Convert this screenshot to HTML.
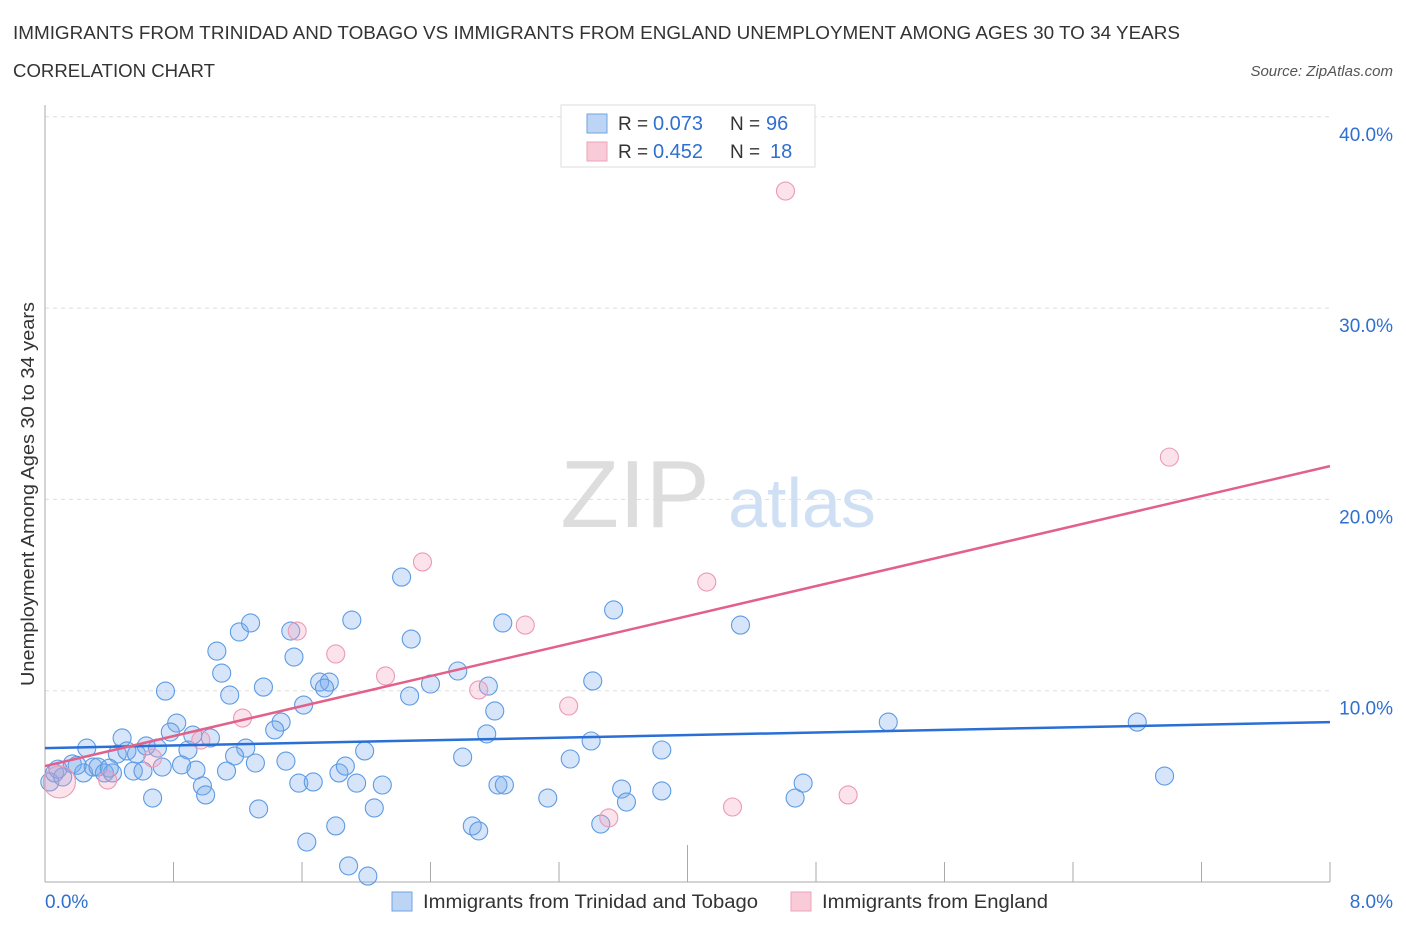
<!DOCTYPE html>
<html><head><meta charset="utf-8"><style>
body{margin:0;background:#fff;font-family:"Liberation Sans",sans-serif;}
svg text{font-family:"Liberation Sans",sans-serif;}
</style></head><body>
<svg id="chart" width="1406" height="930" viewBox="0 0 1406 930" xmlns="http://www.w3.org/2000/svg">
<text x="13" y="39" font-size="18" fill="#333" textLength="1167" lengthAdjust="spacingAndGlyphs">IMMIGRANTS FROM TRINIDAD AND TOBAGO VS IMMIGRANTS FROM ENGLAND UNEMPLOYMENT AMONG AGES 30 TO 34 YEARS</text>
<text x="13" y="77" font-size="18" fill="#333" textLength="202" lengthAdjust="spacingAndGlyphs">CORRELATION CHART</text>
<text x="1393" y="76" font-size="15" fill="#555" font-style="italic" text-anchor="end">Source: ZipAtlas.com</text>
<g>
<text x="635" y="527" font-size="96" fill="#ddd" text-anchor="middle" font-family="Liberation Serif, serif">ZIP</text>
<text x="802" y="527" font-size="70" fill="#cfe0f5" text-anchor="middle">atlas</text>
</g>
<g id="grid"></g>
<g id="axes"></g>
<g id="marks"></g>
<g>
<rect x="561" y="105" width="254" height="62" fill="#fff" stroke="#ddd"/>
<rect x="587" y="114" width="20" height="19" fill="#bcd5f5" stroke="#6fa3e3"/>
<rect x="587" y="142" width="20" height="19" fill="#f9cbd8" stroke="#eba3b9"/>
<text x="618" y="130" font-size="19" fill="#333">R =</text>
<text x="653" y="130" font-size="20" fill="#2f6fd0">0.073</text>
<text x="730" y="130" font-size="19" fill="#333">N =</text>
<text x="766" y="130" font-size="20" fill="#2f6fd0">96</text>
<text x="618" y="158" font-size="19" fill="#333">R =</text>
<text x="653" y="158" font-size="20" fill="#2f6fd0">0.452</text>
<text x="730" y="158" font-size="19" fill="#333">N =</text>
<text x="770" y="158" font-size="20" fill="#2f6fd0">18</text>
</g>
<g>
<rect x="392" y="892" width="20" height="19" fill="#bcd5f5" stroke="#6fa3e3"/>
<text x="423" y="908" font-size="19" fill="#333" textLength="335" lengthAdjust="spacingAndGlyphs">Immigrants from Trinidad and Tobago</text>
<rect x="791" y="892" width="20" height="19" fill="#f9cbd8" stroke="#eba3b9"/>
<text x="822" y="908" font-size="19" fill="#333" textLength="226" lengthAdjust="spacingAndGlyphs">Immigrants from England</text>
</g>
<text transform="translate(34,494) rotate(-90)" font-size="18" fill="#333" text-anchor="middle" textLength="384" lengthAdjust="spacingAndGlyphs">Unemployment Among Ages 30 to 34 years</text>
</svg>
<script>
const blueX=[2.22,1.21,1.28,1.07,1.10,1.15,0.75,1.36,1.53,1.55,1.91,2.28,1.71,1.77,1.74,2.27,2.40,2.57,2.76,2.80,2.75,2.60,1.61,1.47,1.43,0.82,0.78,0.92,1.03,0.48,0.26,0.45,0.51,0.57,0.63,0.70,0.89,1.25,1.18,1.99,0.17,0.24,0.30,0.33,0.37,0.42,0.03,0.06,0.11,0.55,0.61,0.73,0.85,0.94,1.13,1.31,1.50,0.98,1.00,0.67,1.33,1.58,1.67,1.83,1.87,1.94,2.10,2.05,1.81,1.63,1.89,2.01,2.66,2.70,2.82,2.85,3.54,4.33,3.41,3.40,3.27,3.84,2.86,3.13,3.59,3.62,3.84,3.46,4.72,4.67,5.25,6.80,6.97,0.08,0.20,0.40];
const blueY=[15.94,13.07,13.54,12.07,10.92,9.77,9.98,10.19,13.12,11.76,13.69,12.70,10.45,10.45,10.14,9.72,10.35,11.03,10.24,8.94,7.74,6.53,9.25,8.36,7.95,8.31,7.84,7.68,7.53,7.53,7.00,6.69,6.85,6.69,7.11,7.00,6.90,7.00,6.59,6.85,6.17,5.70,6.01,6.01,5.70,5.70,5.23,5.70,5.49,5.80,5.80,6.01,6.12,5.85,5.80,6.22,6.32,5.02,4.55,4.39,3.82,5.17,5.23,5.70,6.06,5.17,5.07,3.87,2.93,2.09,0.84,0.31,2.93,2.67,5.07,13.54,14.22,13.43,10.51,7.37,6.43,6.90,5.07,4.39,4.86,4.18,4.76,3.03,5.17,4.39,8.36,8.36,5.54,5.90,6.10,5.95];
const pinkX=[4.61,7.00,2.35,4.12,1.57,2.99,1.81,2.12,2.70,3.26,1.23,0.97,0.67,0.39,0.09,3.51,4.28,5.00];
const pinkY=[36.12,22.21,16.73,15.68,13.12,13.43,11.92,10.77,10.04,9.20,8.57,7.42,6.48,5.33,5.23,3.35,3.92,4.55];
const pinkR=[9,9,9,9,9,9,9,9,9,9,9,9,9,9,16,9,9,9];
const blueTrend=[7.00,8.36];
const pinkTrend=[6.06,21.74];
const yTicks=[10,20,30,40];
const yTickLabels=["10.0%","20.0%","30.0%","40.0%"];
const xTicks=[0,0.8,1.6,2.4,3.2,4.0,4.8,5.6,6.4,7.2,8.0];
const X0=45,X1=1330,Y0=882,PXY=19.13;
const xs=v=>X0+v/8*(X1-X0);
const ys=v=>Y0-v*PXY;
const NS="http://www.w3.org/2000/svg";
function mk(tag,attrs,parent){const e=document.createElementNS(NS,tag);for(const k in attrs)e.setAttribute(k,attrs[k]);document.getElementById(parent).appendChild(e);return e;}
yTicks.forEach((t,i)=>{
 const g=mk('line',{x1:X0,x2:X1,y1:ys(t),y2:ys(t),stroke:'#ddd','stroke-dasharray':'4,4'},'grid');
 
 
 const l=mk('text',{x:1393,y:ys(t)+24,'font-size':19,fill:'#2f6fd0','text-anchor':'end'},'axes');
 l.textContent=yTickLabels[i];
 
 
});
const ya=mk('line',{x1:X0,x2:X0,y1:105,y2:Y0,stroke:'#aaa'},'axes');


const xa=mk('line',{x1:X0,x2:X1,y1:Y0,y2:Y0,stroke:'#aaa'},'axes');


xTicks.forEach((t,i)=>{
 const tk=mk('line',{x1:xs(t),x2:xs(t),y1:Y0,y2:i==5?845:862,stroke:'#aaa'},'axes');
 
 
});
const l0=mk('text',{x:45,y:908,'font-size':19,fill:'#2f6fd0'},'axes');l0.textContent='0.0%';


const l1=mk('text',{x:1393,y:908,'font-size':19,fill:'#2f6fd0','text-anchor':'end'},'axes');l1.textContent='8.0%';


blueX.forEach((x,i)=>{
 const c=mk('circle',{cx:xs(x),cy:ys(blueY[i]),r:9,fill:'rgba(120,170,235,0.3)',stroke:'#5d9be3','stroke-width':1.1},'marks');
 
 
});
pinkX.forEach((x,i)=>{
 const c=mk('circle',{cx:xs(x),cy:ys(pinkY[i]),r:pinkR[i],fill:'rgba(245,160,190,0.3)',stroke:'#eb9ab4','stroke-width':1.1},'marks');
 
 
});
const bt=mk('line',{x1:xs(0),x2:xs(8),y1:ys(blueTrend[0]),y2:ys(blueTrend[1]),stroke:'#2a6fd6','stroke-width':2.5},'marks');


const pt=mk('line',{x1:xs(0),x2:xs(8),y1:ys(pinkTrend[0]),y2:ys(pinkTrend[1]),stroke:'#e2608a','stroke-width':2.5},'marks');


</script>
</body></html>
